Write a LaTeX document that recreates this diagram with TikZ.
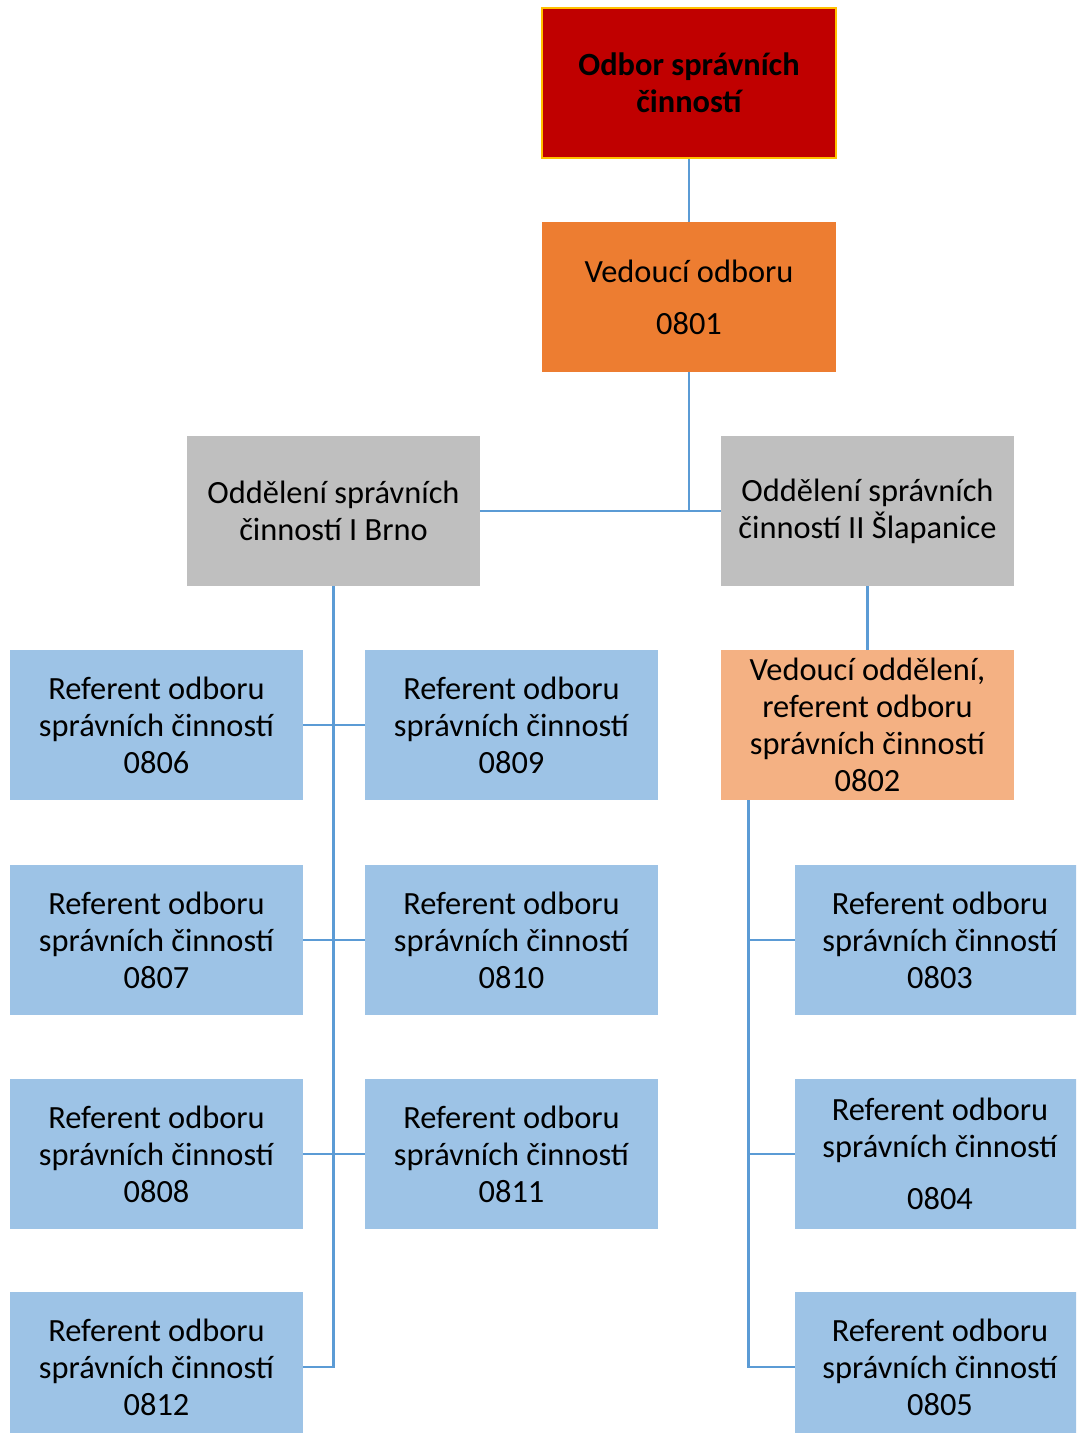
\documentclass[tikz,border=0pt]{standalone}
\usepackage{fontspec}
\setmainfont{Carlito}
\definecolor{deptred}{HTML}{C00000}
\definecolor{deptgold}{HTML}{FFC000}
\definecolor{headorange}{HTML}{ED7D31}
\definecolor{secgray}{HTML}{BFBFBF}
\definecolor{leadpeach}{HTML}{F4B183}
\definecolor{refblue}{HTML}{9DC3E6}
\definecolor{linkblue}{HTML}{5B9BD5}
\begin{document}
\begin{tikzpicture}[x=0.75pt,y=-0.75pt,
  box/.style={rectangle, inner sep=0pt, minimum width=220pt, minimum height=112.5pt,
    align=center, font=\fontsize{24.3}{27.75}\selectfont},
  topbox/.style={box, fill=deptred, draw=deptgold, line width=1.5pt, font=\bfseries\fontsize{24.3}{27.75}\selectfont},
  headbox/.style={box, fill=headorange},
  secbox/.style={box, fill=secgray},
  leadbox/.style={box, fill=leadpeach},
  refbox/.style={box, fill=refblue},
  refboxr/.style={refbox, minimum width=217.5pt},
  conn/.style={draw=linkblue, line width=2.2pt}]
\clip (0,0) rectangle (1076,1433);
\fill[white] (0,0) rectangle (1076,1433);

% top levels
\node[topbox] (top) at (689,83) {Odbor správních\\činností};
\node[headbox] (head) at (689,297) {Vedoucí odboru\\[11.25pt]0801};
\node[secbox] (secA) at (333.5,511) {Oddělení správních\\činností I Brno};
\node[secbox] (secB) at (867.5,511) {Oddělení správních\\činností II Šlapanice};
\node[leadbox] (lead) at (867.5,725) {Vedoucí oddělení,\\referent odboru\\správních činností\\0802};

% Brno referents
\node[refbox] (L1) at (156.5,725) {Referent odboru\\správních činností\\0806};
\node[refbox] (L2) at (156.5,940) {Referent odboru\\správních činností\\0807};
\node[refbox] (L3) at (156.5,1154) {Referent odboru\\správních činností\\0808};
\node[refbox] (L4) at (156.5,1367) {Referent odboru\\správních činností\\0812};
\node[refbox] (M1) at (511.5,725) {Referent odboru\\správních činností\\0809};
\node[refbox] (M2) at (511.5,940) {Referent odboru\\správních činností\\0810};
\node[refbox] (M3) at (511.5,1154) {Referent odboru\\správních činností\\0811};

% Šlapanice referents
\node[refboxr] (R1) at (940,940) {Referent odboru\\správních činností\\0803};
\node[refboxr] (R2) at (940,1154) {Referent odboru\\správních činností\\[11.25pt]0804};
\node[refboxr] (R3) at (940,1367) {Referent odboru\\správních činností\\0805};

% connectors
\draw[conn] (top.south) -- (head.north);
\draw[conn] (head.south) |- (secA.east);
\draw[conn] (head.south) |- (secB.west);
\draw[conn] (secA.south) -- (secA.south |- L4.east) -- (L4.east);
\draw[conn] (L1.east) -- (M1.west);
\draw[conn] (L2.east) -- (M2.west);
\draw[conn] (L3.east) -- (M3.west);
\draw[conn] (secB.south) -- (lead.north);
\coordinate (spine) at ([xshift=21pt]lead.south west);
\draw[conn] (spine) |- (R3.west);
\draw[conn] (spine |- R1.west) -- (R1.west);
\draw[conn] (spine |- R2.west) -- (R2.west);
\end{tikzpicture}
\end{document}
